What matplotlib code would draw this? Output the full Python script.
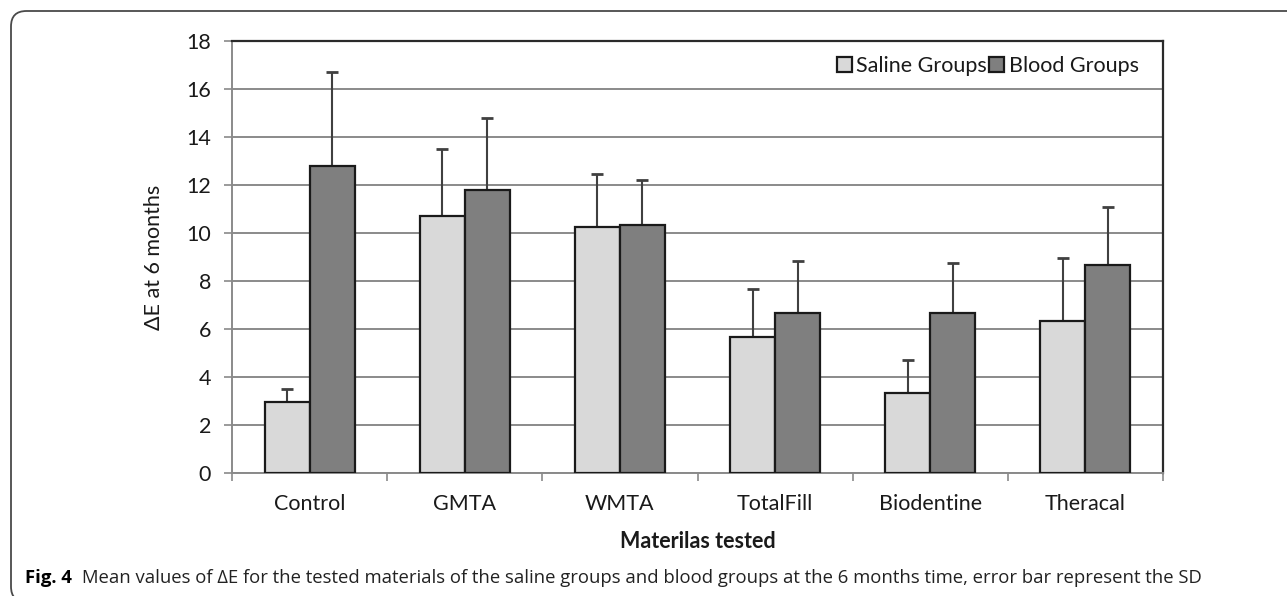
import numpy as np
import matplotlib
matplotlib.use("Agg")
import matplotlib.pyplot as plt
from matplotlib.patches import FancyBboxPatch

categories = ["Control", "GMTA", "WMTA", "TotalFill", "Biodentine", "Theracal"]
saline_mean = [2.95, 10.7, 10.25, 5.65, 3.35, 6.35]
saline_sd = [0.55, 2.8, 2.2, 2.0, 1.35, 2.6]
blood_mean = [12.8, 11.8, 10.35, 6.65, 6.65, 8.65]
blood_sd = [3.9, 3.0, 1.85, 2.2, 2.1, 2.45]
yticks = [0, 2, 4, 6, 8, 10, 12, 14, 16, 18]

W, H = 1287, 596
fig = plt.figure(figsize=(W / 100, H / 100), dpi=100)
fig.patch.set_facecolor("white")

# frame around figure
frame = FancyBboxPatch((11 / W, -6 / H), (W + 60) / W, (H - 11 + 6) / H,
                       boxstyle="round,pad=0,rounding_size=0.012",
                       transform=fig.transFigure, fill=False,
                       edgecolor="#4a4a4a", linewidth=1.3, mutation_aspect=W / H)
fig.patches.append(frame)

ax = fig.add_axes([232 / W, 1 - 473 / H, (1163 - 232) / W, (473 - 41) / H])

font = "Lato"
fs = 15.5
x = np.arange(len(categories))
bw = 0.29
gray_line = "#8a8a8a"

ax.bar(x - bw / 2, saline_mean, bw, color="#d9d9d9", edgecolor="#1a1a1a",
       linewidth=1.6, label="Saline Groups", zorder=3)
ax.bar(x + bw / 2, blood_mean, bw, color="#7f7f7f", edgecolor="#1a1a1a",
       linewidth=1.6, label="Blood Groups", zorder=3)
ax.errorbar(x - bw / 2, saline_mean, yerr=[np.zeros(len(x)), saline_sd],
            fmt="none", ecolor="#404040", elinewidth=1.5, capsize=4.5,
            capthick=2, zorder=2)
ax.errorbar(x + bw / 2, blood_mean, yerr=[np.zeros(len(x)), blood_sd],
            fmt="none", ecolor="#404040", elinewidth=1.5, capsize=4.5,
            capthick=2, zorder=2)

ax.set_xlim(-0.5, len(categories) - 0.5)
ax.set_ylim(0, 18)
ax.set_yticks(yticks)
ax.set_yticklabels([str(v) for v in yticks], fontsize=fs, family=font, color="#1a1a1a")
ax.yaxis.grid(True, color=gray_line, linewidth=1.4, zorder=0)
ax.set_axisbelow(True)

ax.set_xticks(x)
ax.set_xticklabels(categories, fontsize=fs, family=font, color="#1a1a1a")
ax.tick_params(axis="x", length=0, pad=15)
ax.set_xticks(np.arange(len(categories) + 1) - 0.5, minor=True)
ax.tick_params(axis="x", which="minor", length=6, width=1.2, color=gray_line, direction="out")
ax.tick_params(axis="y", length=6, width=1.2, color=gray_line, pad=9)

for s in ["left", "bottom"]:
    ax.spines[s].set_color(gray_line)
    ax.spines[s].set_linewidth(1.4)
for s in ["top", "right"]:
    ax.spines[s].set_color("#2a2a2a")
    ax.spines[s].set_linewidth(1.6)

ax.set_ylabel("\u0394E at 6 months", fontsize=fs, family=font, labelpad=16, color="#1a1a1a")
ax.set_xlabel("Materilas tested", fontsize=fs, family=font, fontweight="bold",
              labelpad=12, color="#1a1a1a")

leg = ax.legend(loc="upper right", ncol=2, frameon=False,
                prop={"family": font, "size": fs},
                handlelength=0.7, handleheight=0.7, handletextpad=0.2,
                columnspacing=0.1, borderaxespad=0.3, bbox_to_anchor=(0.99, 1.0))
for t in leg.get_texts():
    t.set_color("#1a1a1a")

cap_y = 1 - 583 / H
t1 = fig.text(25 / W, cap_y, "Fig. 4", fontsize=13.3, fontweight="bold",
              family="Open Sans", va="baseline", ha="left")
fig.canvas.draw()
bb = t1.get_window_extent()
fig.text((bb.x1 + 10) / W, cap_y,
         "Mean values of \u0394E for the tested materials of the saline groups and blood groups at the 6 months time, error bar represent the SD",
         fontsize=13.3, family="Open Sans", va="baseline", ha="left", color="#222222")

fig.savefig("out.png", dpi=100, facecolor="white")
